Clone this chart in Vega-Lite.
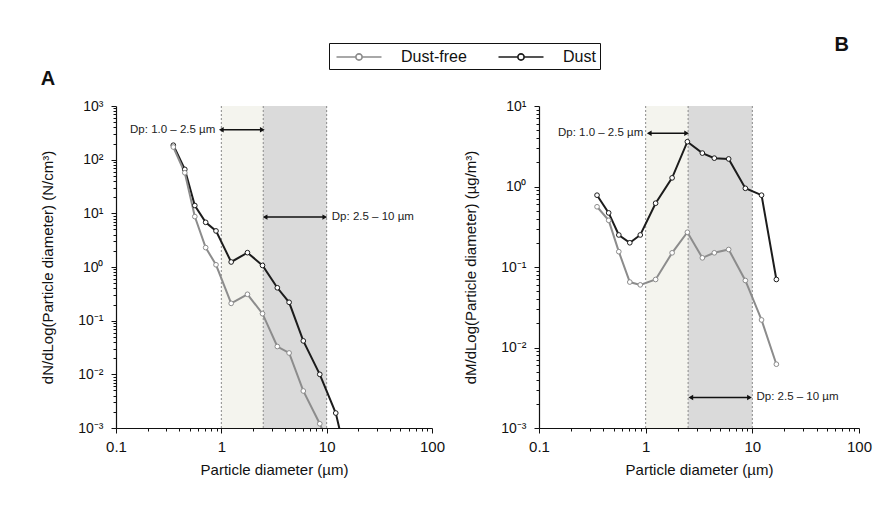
{
  "$schema": "https://vega.github.io/schema/vega-lite/v6.json",
  "background": "white",
  "padding": {"left": 40, "top": 35, "right": 8, "bottom": 10},
  "bounds": "flush",
  "datasets": {
    "size": [
      {"d": 0.35, "series": "Dust", "N": 186, "M": 0.78},
      {"d": 0.45, "series": "Dust", "N": 66, "M": 0.47},
      {"d": 0.56, "series": "Dust", "N": 14, "M": 0.25},
      {"d": 0.71, "series": "Dust", "N": 6.8, "M": 0.2},
      {"d": 0.89, "series": "Dust", "N": 4.7, "M": 0.25},
      {"d": 1.24, "series": "Dust", "N": 1.24, "M": 0.62},
      {"d": 1.77, "series": "Dust", "N": 1.85, "M": 1.28},
      {"d": 2.46, "series": "Dust", "N": 1.07, "M": 3.6},
      {"d": 3.4, "series": "Dust", "N": 0.41, "M": 2.6},
      {"d": 4.4, "series": "Dust", "N": 0.22, "M": 2.25},
      {"d": 6.0, "series": "Dust", "N": 0.042, "M": 2.2},
      {"d": 8.6, "series": "Dust", "N": 0.01, "M": 0.95},
      {"d": 12.2, "series": "Dust", "N": 0.0019, "M": 0.78},
      {"d": 16.8, "series": "Dust", "N": 0.00013, "M": 0.07},
      {"d": 0.35, "series": "Dust-free", "N": 172, "M": 0.56},
      {"d": 0.45, "series": "Dust-free", "N": 57, "M": 0.38},
      {"d": 0.56, "series": "Dust-free", "N": 8.7, "M": 0.155},
      {"d": 0.71, "series": "Dust-free", "N": 2.3, "M": 0.065},
      {"d": 0.89, "series": "Dust-free", "N": 1.1, "M": 0.06},
      {"d": 1.24, "series": "Dust-free", "N": 0.21, "M": 0.07},
      {"d": 1.77, "series": "Dust-free", "N": 0.31, "M": 0.15},
      {"d": 2.46, "series": "Dust-free", "N": 0.135, "M": 0.27},
      {"d": 3.4, "series": "Dust-free", "N": 0.033, "M": 0.13},
      {"d": 4.4, "series": "Dust-free", "N": 0.025, "M": 0.15},
      {"d": 6.0, "series": "Dust-free", "N": 0.0049, "M": 0.165},
      {"d": 8.6, "series": "Dust-free", "N": 0.0012, "M": 0.068},
      {"d": 12.2, "series": "Dust-free", "N": 0.00024, "M": 0.022},
      {"d": 16.8, "series": "Dust-free", "N": 0.00005, "M": 0.0062}
    ],
    "bands": [
      {"lo": 1.0, "hi": 2.5, "band": "fine"},
      {"lo": 2.5, "hi": 10, "band": "coarse"}
    ],
    "edges": [{"e": 1.0}, {"e": 2.5}, {"e": 10}],
    "annA": [
      {"x": 1.0, "x2": 2.45, "y": 360, "label": "Dp: 1.0 – 2.5 µm", "side": "left"},
      {"x": 2.6, "x2": 9.6, "y": 8.5, "label": "Dp: 2.5 – 10 µm", "side": "right"}
    ],
    "annB": [
      {"x": 1.08, "x2": 2.42, "y": 4.6, "label": "Dp: 1.0 – 2.5 µm", "side": "left"},
      {"x": 2.65, "x2": 9.4, "y": 0.0024, "label": "Dp: 2.5 – 10 µm", "side": "right"}
    ]
  },
  "spacing": 107,
  "resolve": {"scale": {"color": "shared"}},
  "hconcat": [
    {
      "title": {"text": "A", "anchor": "start", "frame": "bounds", "fontSize": 20, "fontWeight": "bold", "color": "#111", "offset": 10},
      "width": 316,
      "height": 322,
      "layer": [
        {
          "data": {"name": "bands"},
          "mark": {"type": "rect"},
          "encoding": {
            "x": {"field": "lo", "type": "quantitative", "title": "Particle diameter (µm)",
              "scale": {"type": "log", "domain": [0.1, 100]},
              "axis": {
                "values": [0.1,0.2,0.3,0.4,0.5,0.6,0.7,0.8,0.9,1,2,3,4,5,6,7,8,9,10,20,30,40,50,60,70,80,90,100],
                "labelExpr": "abs(log(datum.value)/LN10 - round(log(datum.value)/LN10)) < 0.01 ? format(datum.value, '~g') : ''",
                "tickSize": {"condition": {"test": "abs(log(datum.value)/LN10 - round(log(datum.value)/LN10)) < 0.01", "value": 5}, "value": 3},
                "labelFontSize": 15, "titlePadding": 8, "labelPadding": 6
              }},
            "x2": {"field": "hi"},
            "fill": {"field": "band", "type": "nominal", "scale": {"domain": ["fine", "coarse"], "range": ["#f4f4ee", "#dadada"]}, "legend": null}
          }
        },
        {
          "data": {"name": "edges"},
          "mark": {"type": "rule", "strokeDash": [2, 2], "color": "#8a8a8a", "strokeWidth": 1},
          "encoding": {"x": {"field": "e", "type": "quantitative", "title": "Particle diameter (µm)"}}
        },
        {
          "data": {"name": "size"},
          "mark": {"type": "line", "clip": true, "strokeWidth": 2, "point": {"filled": false, "fill": "white", "size": 22, "strokeWidth": 1}},
          "encoding": {
            "x": {"field": "d", "type": "quantitative", "title": "Particle diameter (µm)"},
            "y": {"field": "N", "type": "quantitative", "title": "dN/dLog(Particle diameter) (N/cm³)",
              "scale": {"type": "log", "domain": [0.001, 1000]},
              "axis": {
                "values": [0.001,0.002,0.003,0.004,0.005,0.006,0.007,0.008,0.009,0.01,0.02,0.03,0.04,0.05,0.06,0.07,0.08,0.09,0.1,0.2,0.3,0.4,0.5,0.6,0.7,0.8,0.9,1,2,3,4,5,6,7,8,9,10,20,30,40,50,60,70,80,90,100,200,300,400,500,600,700,800,900,1000],
                "labelExpr": "abs(log(datum.value)/LN10 - round(log(datum.value)/LN10)) < 0.01 ? ['10⁻³','10⁻²','10⁻¹','10⁰','10¹','10²','10³'][round(log(datum.value)/LN10)+3] : ''",
                "tickSize": {"condition": {"test": "abs(log(datum.value)/LN10 - round(log(datum.value)/LN10)) < 0.01", "value": 5}, "value": 3},
                "titlePadding": 22, "labelPadding": 8
              }},
            "color": {"field": "series", "type": "nominal",
              "scale": {"domain": ["Dust-free", "Dust"], "range": ["#8c8c8c", "#1c1c1c"]},
              "legend": {
                "orient": "none", "legendX": 213, "legendY": -63, "direction": "horizontal", "title": null,
                "strokeColor": "#111", "fillColor": "white", "padding": 4,
                "labelFontSize": 16, "labelColor": "#111", "labelFont": "Liberation Sans",
                "symbolType": "M-2.5,0L-0.35,0M0.35,0L2.5,0M0.35,0A0.35,0.35,0,1,1,-0.35,0A0.35,0.35,0,1,1,0.35,0",
                "symbolSize": 324, "symbolStrokeWidth": 1.6, "symbolOffset": 16, "labelOffset": 32, "columnPadding": 28
              }}
          }
        },
        {
          "data": {"name": "annA"},
          "mark": {"type": "rule", "color": "#111", "strokeWidth": 1.5},
          "encoding": {
            "x": {"field": "x", "type": "quantitative", "title": "Particle diameter (µm)"},
            "x2": {"field": "x2"},
            "y": {"field": "y", "type": "quantitative", "title": "dN/dLog(Particle diameter) (N/cm³)"}
          }
        },
        {
          "data": {"name": "annA"},
          "mark": {"type": "point", "shape": "triangle-left", "filled": true, "color": "#111", "size": 30, "opacity": 1},
          "encoding": {
            "x": {"field": "x", "type": "quantitative", "title": "Particle diameter (µm)"},
            "y": {"field": "y", "type": "quantitative", "title": "dN/dLog(Particle diameter) (N/cm³)"}
          }
        },
        {
          "data": {"name": "annA"},
          "mark": {"type": "point", "shape": "triangle-right", "filled": true, "color": "#111", "size": 30, "opacity": 1},
          "encoding": {
            "x": {"field": "x2", "type": "quantitative", "title": "Particle diameter (µm)"},
            "y": {"field": "y", "type": "quantitative", "title": "dN/dLog(Particle diameter) (N/cm³)"}
          }
        },
        {
          "data": {"name": "annA"},
          "transform": [{"filter": "datum.side == 'left'"}],
          "mark": {"type": "text", "align": "right", "dx": -6, "fontSize": 11.5, "color": "#222"},
          "encoding": {
            "x": {"field": "x", "type": "quantitative", "title": "Particle diameter (µm)"},
            "y": {"field": "y", "type": "quantitative", "title": "dN/dLog(Particle diameter) (N/cm³)"},
            "text": {"field": "label"}
          }
        },
        {
          "data": {"name": "annA"},
          "transform": [{"filter": "datum.side == 'right'"}],
          "mark": {"type": "text", "align": "left", "dx": 7, "fontSize": 11.5, "color": "#222"},
          "encoding": {
            "x": {"field": "x2", "type": "quantitative", "title": "Particle diameter (µm)"},
            "y": {"field": "y", "type": "quantitative", "title": "dN/dLog(Particle diameter) (N/cm³)"},
            "text": {"field": "label"}
          }
        }
      ]
    },
    {
      "title": {"text": "B", "anchor": "end", "frame": "group", "fontSize": 20, "fontWeight": "bold", "color": "#111", "offset": 10, "dy": -34, "dx": -10},
      "width": 320,
      "height": 322,
      "layer": [
        {
          "data": {"name": "bands"},
          "mark": {"type": "rect"},
          "encoding": {
            "x": {"field": "lo", "type": "quantitative", "title": "Particle diameter (µm)",
              "scale": {"type": "log", "domain": [0.1, 100]},
              "axis": {
                "values": [0.1,0.2,0.3,0.4,0.5,0.6,0.7,0.8,0.9,1,2,3,4,5,6,7,8,9,10,20,30,40,50,60,70,80,90,100],
                "labelExpr": "abs(log(datum.value)/LN10 - round(log(datum.value)/LN10)) < 0.01 ? format(datum.value, '~g') : ''",
                "tickSize": {"condition": {"test": "abs(log(datum.value)/LN10 - round(log(datum.value)/LN10)) < 0.01", "value": 5}, "value": 3},
                "labelFontSize": 15, "titlePadding": 8, "labelPadding": 6
              }},
            "x2": {"field": "hi"},
            "fill": {"field": "band", "type": "nominal", "scale": {"domain": ["fine", "coarse"], "range": ["#f4f4ee", "#dadada"]}, "legend": null}
          }
        },
        {
          "data": {"name": "edges"},
          "mark": {"type": "rule", "strokeDash": [2, 2], "color": "#8a8a8a", "strokeWidth": 1},
          "encoding": {"x": {"field": "e", "type": "quantitative", "title": "Particle diameter (µm)"}}
        },
        {
          "data": {"name": "size"},
          "mark": {"type": "line", "clip": true, "strokeWidth": 2, "point": {"filled": false, "fill": "white", "size": 22, "strokeWidth": 1}},
          "encoding": {
            "x": {"field": "d", "type": "quantitative", "title": "Particle diameter (µm)"},
            "y": {"field": "M", "type": "quantitative", "title": "dM/dLog(Particle diameter) (µg/m³)",
              "scale": {"type": "log", "domain": [0.001, 10]},
              "axis": {
                "values": [0.001,0.002,0.003,0.004,0.005,0.006,0.007,0.008,0.009,0.01,0.02,0.03,0.04,0.05,0.06,0.07,0.08,0.09,0.1,0.2,0.3,0.4,0.5,0.6,0.7,0.8,0.9,1,2,3,4,5,6,7,8,9,10],
                "labelExpr": "abs(log(datum.value)/LN10 - round(log(datum.value)/LN10)) < 0.01 ? ['10⁻³','10⁻²','10⁻¹','10⁰','10¹','10²','10³'][round(log(datum.value)/LN10)+3] : ''",
                "tickSize": {"condition": {"test": "abs(log(datum.value)/LN10 - round(log(datum.value)/LN10)) < 0.01", "value": 5}, "value": 3},
                "titlePadding": 22, "labelPadding": 8
              }},
            "color": {"field": "series", "type": "nominal"}
          }
        },
        {
          "data": {"name": "annB"},
          "mark": {"type": "rule", "color": "#111", "strokeWidth": 1.5},
          "encoding": {
            "x": {"field": "x", "type": "quantitative", "title": "Particle diameter (µm)"},
            "x2": {"field": "x2"},
            "y": {"field": "y", "type": "quantitative", "title": "dM/dLog(Particle diameter) (µg/m³)"}
          }
        },
        {
          "data": {"name": "annB"},
          "mark": {"type": "point", "shape": "triangle-left", "filled": true, "color": "#111", "size": 30, "opacity": 1},
          "encoding": {
            "x": {"field": "x", "type": "quantitative", "title": "Particle diameter (µm)"},
            "y": {"field": "y", "type": "quantitative", "title": "dM/dLog(Particle diameter) (µg/m³)"}
          }
        },
        {
          "data": {"name": "annB"},
          "mark": {"type": "point", "shape": "triangle-right", "filled": true, "color": "#111", "size": 30, "opacity": 1},
          "encoding": {
            "x": {"field": "x2", "type": "quantitative", "title": "Particle diameter (µm)"},
            "y": {"field": "y", "type": "quantitative", "title": "dM/dLog(Particle diameter) (µg/m³)"}
          }
        },
        {
          "data": {"name": "annB"},
          "transform": [{"filter": "datum.side == 'left'"}],
          "mark": {"type": "text", "align": "right", "dx": -6, "fontSize": 11.5, "color": "#222"},
          "encoding": {
            "x": {"field": "x", "type": "quantitative", "title": "Particle diameter (µm)"},
            "y": {"field": "y", "type": "quantitative", "title": "dM/dLog(Particle diameter) (µg/m³)"},
            "text": {"field": "label"}
          }
        },
        {
          "data": {"name": "annB"},
          "transform": [{"filter": "datum.side == 'right'"}],
          "mark": {"type": "text", "align": "left", "dx": 7, "fontSize": 11.5, "color": "#222"},
          "encoding": {
            "x": {"field": "x2", "type": "quantitative", "title": "Particle diameter (µm)"},
            "y": {"field": "y", "type": "quantitative", "title": "dM/dLog(Particle diameter) (µg/m³)"},
            "text": {"field": "label"}
          }
        }
      ]
    }
  ],
  "config": {
    "font": "Liberation Sans",
    "view": {"stroke": null},
    "axis": {
      "labelFont": "Liberation Sans", "titleFont": "Liberation Sans",
      "labelFontSize": 14, "titleFontSize": 15, "titleFontWeight": "normal",
      "labelColor": "#111", "titleColor": "#111", "domainColor": "#111", "tickColor": "#111",
      "domainWidth": 1.2, "grid": false, "labelOverlap": false, "labelFlush": false
    },
    "title": {"font": "Liberation Sans"}
  }
}
